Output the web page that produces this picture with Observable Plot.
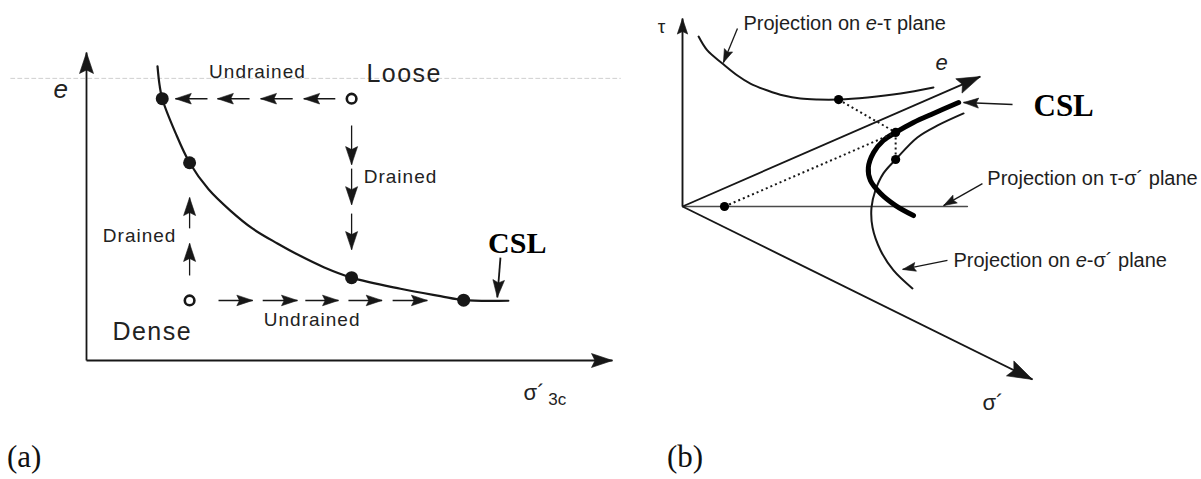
<!DOCTYPE html>
<html><head><meta charset="utf-8">
<script src="https://cdn.jsdelivr.net/npm/d3@7"></script>
<script src="https://cdn.jsdelivr.net/npm/@observablehq/plot@0.6"></script>
<style>
body{margin:0;background:#fff;}
#wrap{width:1201px;height:479px;position:relative;overflow:hidden;background:#fff}
#row{display:flex;height:430px}
#cap{position:relative;height:49px;font-family:"Liberation Serif","Times New Roman",serif;font-size:31px;line-height:1;color:#111}
#cap span{position:absolute;top:11px}
</style></head><body>
<div id="wrap"><div id="row"></div><div id="cap"><span style="left:7px">(a)</span><span style="left:667px">(b)</span></div></div>
<script>
// ================= DATA =================
// ---- panel (a): e vs sigma'3c (diagram units 0..100 along each axis)
const cslA_sigma = [13.5, 13.9, 14.4, 16.9, 19.6, 23.2, 27.4, 31.6, 36.3, 40.7, 45.1, 50.4, 59.7, 67.3, 71.7, 80.2];
const cslA_e     = [95.5, 89.3, 85.0, 74.0, 64.2, 55.6, 48.6, 42.8, 38.0, 33.9, 30.3, 26.9, 23.3, 20.9, 19.6, 19.4];
const critA_sigma = [14.4, 19.6, 50.4, 71.7];
const critA_e     = [85.0, 64.2, 26.9, 19.6];
const initA_name  = ["Loose", "Dense"];
const initA_sigma = [50.4, 19.6];
const initA_e     = [85.0, 19.5];
const undrTopTail = [23.0, 31.0, 39.2, 47.3];
const undrTopTip  = [16.9, 24.9, 33.1, 41.3];
const undrTopE    = 85.0;
const drDownTail  = [76.3, 62.3, 47.7];
const drDownTip   = [63.6, 50.6, 36.0];
const drDownSigma = 50.4;
const drUpTail    = [42.9, 27.6];
const drUpTip     = [52.9, 38.0];
const drUpSigma   = 19.6;
const undrBotTail = [25.1, 33.5, 41.6, 49.8, 58.2];
const undrBotTip  = [31.6, 40.1, 47.9, 56.2, 64.8];
const undrBotE    = 19.5;
const axisA_tipSigma = [0, 100];
const axisA_tipE     = [100, 0];
const cslPtrA_tail = [78.7, 33.4];
const cslPtrA_tip  = [78.1, 20.5];
const scanA_sigma = [-14.4, 101.5];
const scanA_e = 91.6;
const labelA_small = ["Undrained", "Drained", "Drained", "Undrained"];
const labelA_small_sigma = [32.5, 59.7, 10.1, 42.9];
const labelA_small_e     = [93.8, 59.7, 40.6, 13.1];
const labelA_big = ["Loose", "Dense"];
const labelA_big_sigma = [60.4, 12.5];
const labelA_big_e     = [92.9, 9.3];

// ---- panel (b): oblique sketch of e - tau - sigma' space (diagram units)
const axisB_name = ["τ", "e", "σ´"];
const axisB_tipX = [0, 85.1, 100];
const axisB_tipY = [100, 69.1, -92.0];
const horizB_x = [0, 81.4];
const etauX = [4.6, 7.1, 11.4, 15.7, 19.4, 24.3, 28.9, 33.7, 38.6, 44.6, 52.9, 62.3, 71.7];
const etauY = [90.4, 83.0, 76.1, 69.7, 65.4, 61.7, 59.0, 57.4, 56.9, 56.9, 58.0, 60.1, 63.3];
const cslBX = [78.9, 71.7, 66.0, 60.9, 57.4, 54.6, 53.1, 53.7, 56.6, 60.9, 66.0];
const cslBY = [55.3, 49.5, 44.7, 39.4, 35.1, 28.7, 20.7, 13.8, 6.9, 0.5, -4.8];
const esigX = [80.3, 72.9, 67.1, 60.9, 57.4, 55.1, 54.0, 54.3, 56.6, 60.3, 65.7];
const esigY = [49.5, 43.1, 36.7, 25.0, 17.6, 8.5, -0.5, -11.2, -23.4, -34.0, -43.6];
const dotsBX = [44.6, 60.9, 60.9, 12.0];
const dotsBY = [56.9, 39.4, 25.0, 0];
const dottedB_from = [0, 1, 3];
const dottedB_to   = [1, 2, 1];
const ptrB_text = ["Projection on _e_-τ plane", "Projection on τ-σ´ plane", "Projection on _e_-σ´ plane"];
const ptrB_textX = [17.4, 87.1, 77.4];
const ptrB_textY = [97.3, 14.9, -28.7];
const ptrB_tail = [[15.7, 94.7], [85.7, 12.2], [75.7, -28.7]];
const ptrB_tip  = [[11.7, 76.6], [74.6, 0.5], [62.9, -33.5]];
const cslPtrB_tail = [94.3, 54.3];
const cslPtrB_tip  = [80.3, 55.3];

// ================= DRAWING =================
const ink = "#171717";
const sans = "Liberation Sans, Arial, Helvetica, sans-serif";
const serif = "Liberation Serif, Times New Roman, serif";

const arrowHead = {
  draw(ctx, size) {
    const r = Math.sqrt(size / Math.PI);
    ctx.moveTo(0, 0);
    ctx.lineTo(1.0 * r, 3 * r);
    ctx.lineTo(0, 2.5 * r);
    ctx.lineTo(-1.0 * r, 3 * r);
    ctx.closePath();
  }
};

function arrows(tails, tips, sx, sy) {
  return tails.map((t, i) => {
    const p = tips[i];
    const dx = sx(p[0]) - sx(t[0]), dy = sy(p[1]) - sy(t[1]);
    return {x1: t[0], y1: t[1], x2: p[0], y2: p[1], angle: Math.atan2(dx, -dy) * 180 / Math.PI};
  });
}
function arrowMarks(data, r, sw, extra = {}) {
  return [
    Plot.link(data, {x1: "x1", y1: "y1", x2: "x2", y2: "y2", stroke: ink, strokeWidth: sw, ...extra}),
    Plot.dot(data, {x: "x2", y: "y2", rotate: "angle", r, symbol: arrowHead, fill: ink, stroke: ink, strokeWidth: 0.6})
  ];
}

// ---- panel (a)
const xA = {domain: [0, 100], range: [86, 612]};
const yA = {domain: [0, 100], range: [360, 52]};
const sxA = d3.scaleLinear(xA.domain, xA.range), syA = d3.scaleLinear(yA.domain, yA.range);

const cslA = cslA_sigma.map((s, i) => ({s, e: cslA_e[i]}));
const critA = critA_sigma.map((s, i) => ({s, e: critA_e[i]}));
const initA = initA_name.map((n, i) => ({n, s: initA_sigma[i], e: initA_e[i]}));
const axesA = arrows(axisA_tipSigma.map(() => [0, 0]), axisA_tipSigma.map((s, i) => [s, axisA_tipE[i]]), sxA, syA);
const topA = arrows(undrTopTail.map(v => [v, undrTopE]), undrTopTip.map(v => [v, undrTopE]), sxA, syA);
const botA = arrows(undrBotTail.map(v => [v, undrBotE]), undrBotTip.map(v => [v, undrBotE]), sxA, syA);
const downA = arrows(drDownTail.map(v => [drDownSigma, v]), drDownTip.map(v => [drDownSigma, v]), sxA, syA);
const upA = arrows(drUpTail.map(v => [drUpSigma, v]), drUpTip.map(v => [drUpSigma, v]), sxA, syA);
const cslPtrA = arrows([cslPtrA_tail], [cslPtrA_tip], sxA, syA);
const scanA = scanA_sigma.map(s => ({s, e: scanA_e}));

const plotA = Plot.plot({
  width: 640, height: 430, margin: 0,
  x: {...xA, axis: null}, y: {...yA, axis: null},
  style: {background: "white"},
  marks: [
    Plot.line(scanA, {x: "s", y: "e", stroke: "#cfcfcf", strokeWidth: 1, strokeDasharray: "4,3"}),
    ...arrowMarks(axesA, 7, 1.8),
    Plot.line(cslA, {x: "s", y: "e", curve: "catmull-rom", stroke: ink, strokeWidth: 2.2}),
    ...arrowMarks(topA, 5.3, 1.5),
    ...arrowMarks(botA, 5.3, 1.5),
    ...arrowMarks(downA, 6, 1.3),
    ...arrowMarks(upA, 6, 1.3),
    ...arrowMarks(cslPtrA, 5.8, 1.8),
    Plot.dot(critA, {x: "s", y: "e", r: 6.5, fill: ink, stroke: "none"}),
    Plot.dot(initA, {x: "s", y: "e", r: 4.8, fill: "white", stroke: ink, strokeWidth: 2.6}),
    Plot.text(labelA_small, {x: (d, i) => labelA_small_sigma[i], y: (d, i) => labelA_small_e[i], text: d => d,
      fontSize: 19, fontFamily: sans, fill: "#222"}),
    Plot.text(labelA_big, {x: (d, i) => labelA_big_sigma[i], y: (d, i) => labelA_big_e[i], text: d => d,
      fontSize: 25, fontFamily: sans, fill: "#222"}),
    Plot.text(["e"], {x: -4.9, y: 87.8, text: d => d, fontSize: 26, fontStyle: "italic", fontFamily: sans, fill: "#222"}),
    Plot.text(["σ´"], {x: 83.1, y: -10.4, text: d => d, fontSize: 22, fontFamily: sans, fill: "#222", textAnchor: "start"}),
    Plot.text(["3c"], {x: 87.8, y: -12.7, text: d => d, fontSize: 17, fontFamily: sans, fill: "#222", textAnchor: "start"}),
    Plot.text(["CSL"], {x: 81.9, y: 38.0, text: d => d, fontSize: 30, fontWeight: "bold", fontFamily: serif, fill: "#000"})
  ]
});

// ---- panel (b)
const xB = {domain: [0, 100], range: [42, 392]};
const yB = {domain: [0, 100], range: [206, 18]};
const sxB = d3.scaleLinear(xB.domain, xB.range), syB = d3.scaleLinear(yB.domain, yB.range);

const axesB = arrows(axisB_tipX.map(() => [0, 0]), axisB_tipX.map((x, i) => [x, axisB_tipY[i]]), sxB, syB);
const etau = etauX.map((x, i) => ({x, y: etauY[i]}));
const cslB = cslBX.map((x, i) => ({x, y: cslBY[i]}));
const esig = esigX.map((x, i) => ({x, y: esigY[i]}));
const dotsB = dotsBX.map((x, i) => ({x, y: dotsBY[i]}));
const dottedB = dottedB_from.map((f, i) => ({x1: dotsBX[f], y1: dotsBY[f], x2: dotsBX[dottedB_to[i]], y2: dotsBY[dottedB_to[i]]}));
const horizB = horizB_x.map(x => ({x, y: 0}));
const ptrB = arrows(ptrB_tail, ptrB_tip, sxB, syB);
const cslPtrB = arrows([cslPtrB_tail], [cslPtrB_tip], sxB, syB);
const headOpts = {x: "x2", y: "y2", rotate: "angle", symbol: arrowHead, fill: ink, stroke: ink, strokeWidth: 0.6};

const plotB = Plot.plot({
  width: 561, height: 430, margin: 0,
  x: {...xB, axis: null}, y: {...yB, axis: null},
  style: {background: "white"},
  marks: [
    Plot.line(horizB, {x: "x", y: "y", stroke: "#4a4a4a", strokeWidth: 1.4}),
    Plot.link(axesB, {x1: "x1", y1: "y1", x2: "x2", y2: "y2", stroke: ink, strokeWidth: 1.9}),
    Plot.dot(axesB.slice(0, 1), {...headOpts, r: 5.2}),
    Plot.dot(axesB.slice(1, 2), {...headOpts, r: 7.8}),
    Plot.dot(axesB.slice(2, 3), {...headOpts, r: 8.3}),
    Plot.line(etau, {x: "x", y: "y", curve: "catmull-rom", stroke: ink, strokeWidth: 2}),
    Plot.line(esig, {x: "x", y: "y", curve: "catmull-rom", stroke: ink, strokeWidth: 2}),
    Plot.line(cslB, {x: "x", y: "y", curve: "catmull-rom", stroke: "#000", strokeWidth: 5, strokeLinecap: "round"}),
    Plot.link(dottedB, {x1: "x1", y1: "y1", x2: "x2", y2: "y2", stroke: ink, strokeWidth: 2, strokeDasharray: "2,3"}),
    Plot.dot(dotsB, {x: "x", y: "y", r: 4.6, fill: "#000", stroke: "none"}),
    ...arrowMarks(ptrB, 4.4, 1.3),
    ...arrowMarks(cslPtrB, 5, 1.5),
    Plot.text(ptrB_text, {x: (d, i) => ptrB_textX[i], y: (d, i) => ptrB_textY[i], text: d => d,
      fontSize: 20, fontFamily: sans, fill: "#1e1e1e", textAnchor: "start"}),
    Plot.text(["τ"], {x: -6.0, y: 95.7, text: d => d, fontSize: 19, fontFamily: sans, fill: "#222"}),
    Plot.text(["e"], {x: 74.0, y: 76.1, text: d => d, fontSize: 22, fontStyle: "italic", fontFamily: sans, fill: "#222"}),
    Plot.text(["σ´"], {x: 85.7, y: -104.3, text: d => d, fontSize: 22, fontFamily: sans, fill: "#222", textAnchor: "start"}),
    Plot.text(["CSL"], {x: 108.9, y: 53.2, text: d => d, fontSize: 31, fontWeight: "bold", fontFamily: serif, fill: "#000"})
  ]
});

// text styling touches: letter spacing on scanned labels, italic "e" inside captions
plotA.querySelectorAll("text").forEach(t => {
  const s = t.textContent;
  if (s === "Undrained" || s === "Drained") t.setAttribute("letter-spacing", "1");
  if (s === "Loose" || s === "Dense") t.setAttribute("letter-spacing", "1.5");
});
plotB.querySelectorAll("text").forEach(t => {
  const s = t.textContent;
  if (!s.includes("_")) return;
  t.textContent = "";
  s.split("_").forEach((part, k) => {
    if (!part) return;
    const ts = document.createElementNS("http://www.w3.org/2000/svg", "tspan");
    if (k % 2 === 1) ts.setAttribute("font-style", "italic");
    ts.textContent = part;
    t.appendChild(ts);
  });
});

const row = document.getElementById("row");
row.appendChild(plotA);
row.appendChild(plotB);
</script>
</body></html>
